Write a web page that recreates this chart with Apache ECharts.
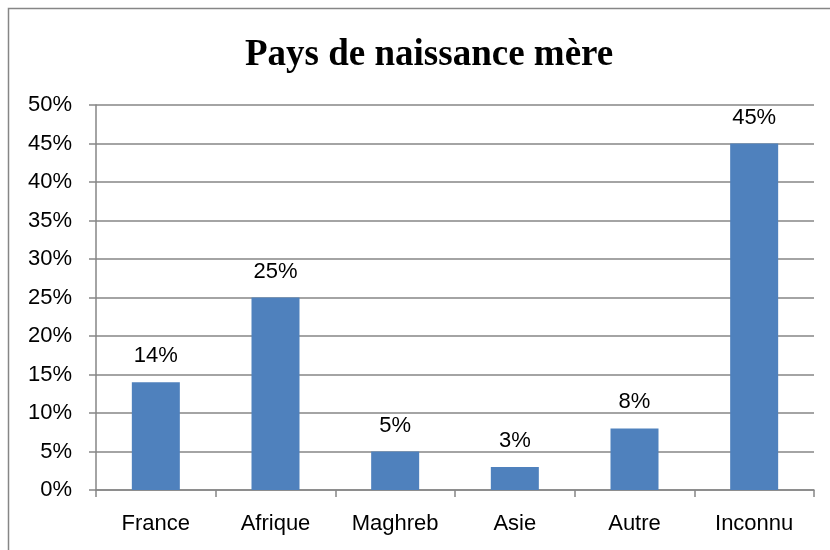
<!DOCTYPE html>
<html>
<head>
<meta charset="utf-8">
<script src="https://cdn.jsdelivr.net/npm/echarts@6/dist/echarts.min.js"></script>
<style>
  html, body { margin: 0; padding: 0; background: #fff; }
  #chart { width: 830px; height: 550px; }
</style>
</head>
<body>
<div id="chart"></div>
<script>
var categories = ['France', 'Afrique', 'Maghreb', 'Asie', 'Autre', 'Inconnu'];
var values = [14, 25, 5, 3, 8, 45];
var titleText = 'Pays de naissance mère';

var myChart = echarts.init(document.getElementById('chart'));

var option = {
    animation: false,
    backgroundColor: '#fff',
    title: {
        text: titleText,
        left: 240,
        top: 32,
        textStyle: {
            fontFamily: 'Liberation Serif',
            fontWeight: 'bold',
            fontSize: 37,
            color: '#000'
        }
    },
    graphic: [{
        type: 'rect',
        shape: {x: 8.5, y: 8.5, width: 900, height: 900},
        style: {fill: null, stroke: '#868686', lineWidth: 1.5},
        silent: true
    }],
    grid: {
        left: 96,
        right: 16,
        top: 105,
        bottom: 60
    },
    xAxis: {
        type: 'category',
        data: categories,
        axisLine: {lineStyle: {color: '#868686', width: 1.5}},
        axisTick: {show: true, length: 7, lineStyle: {color: '#868686', width: 1.5}},
        axisLabel: {
            color: '#000',
            fontFamily: 'Liberation Sans',
            fontSize: 22,
            margin: 23
        }
    },
    yAxis: {
        type: 'value',
        min: 0,
        max: 50,
        interval: 5,
        axisLine: {show: true, lineStyle: {color: '#868686', width: 1.5}},
        axisTick: {show: true, length: 7, lineStyle: {color: '#868686', width: 1.5}},
        splitLine: {lineStyle: {color: '#868686', width: 1.5}},
        axisLabel: {
            color: '#000',
            fontFamily: 'Liberation Sans',
            fontSize: 22,
            margin: 24,
            formatter: '{value}%'
        }
    },
    series: [{
        type: 'bar',
        data: values,
        barWidth: 48,
        itemStyle: {color: '#4F81BD'},
        label: {
            show: true,
            position: 'top',
            distance: 15,
            color: '#000',
            fontFamily: 'Liberation Sans',
            fontSize: 22,
            formatter: '{c}%'
        }
    }]
};

myChart.setOption(option);
</script>
</body>
</html>
